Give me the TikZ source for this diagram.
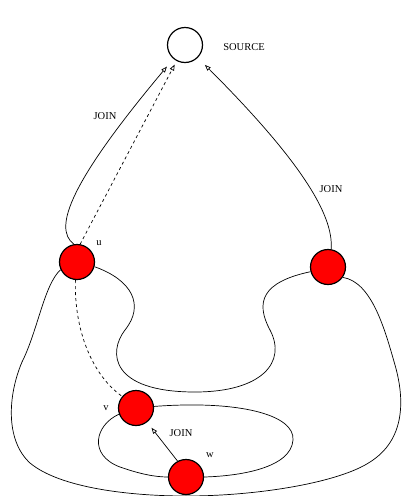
\documentclass[tikz,border=0pt]{standalone}
\usepackage{fontspec}
\setmainfont{Liberation Serif}
\usetikzlibrary{arrows.meta}
\tikzstyle{proc} = [draw=black, line width=1.2pt, fill=red, circle, minimum size=35pt, inner sep=0pt]
\tikzstyle{root} = [proc, fill=white]
\tikzstyle{tag} = [font={\fontsize{10.5}{12}\selectfont}, inner sep=0pt]
\tikzstyle{joinarrow} = [line width=0.7pt, -{Triangle[open, length=6pt, width=4.5pt]}]
\tikzstyle{trail} = [line width=0.7pt, dashed]
\tikzstyle{edge} = [line width=0.7pt]

\begin{document}
\begin{tikzpicture}[x=1pt, y=-1pt]
  \useasboundingbox (0,0) rectangle (404,496);
  \node[root](src) at (185,45){};
  \node[proc](u) at (77,262){};
  \node[proc](r) at (328,267){};
  \node[proc](v) at (136,408){};
  \node[proc](w) at (186,477){};
  \node[tag](tsrc) at (244,47){SOURCE};
  \node[tag](tu) at (99,243){u};
  \node[tag](tv) at (106,408){v};
  \node[tag](tw) at (210,455){w};
  \node[tag](j1) at (105,116){JOIN};
  \node[tag](j2) at (331,189){JOIN};
  \node[tag](j3) at (181,433){JOIN};
  \draw[joinarrow,shorten >=10pt](u.100) .. controls (52,228) and (72,180) .. (src);
  \draw[joinarrow,trail,shorten >=4pt](u.80) -- (src);
  \draw[joinarrow,shorten >=10pt](r.80) .. controls (334,215) and (300,160) .. (src);
  \draw[joinarrow,shorten >=7pt](w.118) -- (v);
  \draw[trail](u.265) .. controls (74,330) and (92,375) .. (v.140);
  \draw[edge](u.-15) .. controls (132,280) and (145,305) .. (125,330)
    .. controls (108,352) and (110,392) .. (195,392)
    .. controls (262,392) and (287,362) .. (270,330)
    .. controls (255,302) and (262,282) .. (r.195);
  \draw[edge](u.205) .. controls (44,285) and (38,330) .. (22,362)
    .. controls (8,395) and (5,440) .. (30,463)
    .. controls (60,488) and (130,496) .. (186,496)
    .. controls (260,496) and (340,482) .. (370,462)
    .. controls (405,440) and (405,400) .. (395,365)
    .. controls (385,330) and (372,282) .. (r.-35);
  \draw[edge](v.5) .. controls (240,400) and (295,415) .. (293,440)
    .. controls (291,468) and (240,476) .. (w.0);
  \draw[edge](v.200) .. controls (95,425) and (88,455) .. (120,467)
    .. controls (140,474) and (155,477) .. (w.180);
\end{tikzpicture}
\end{document}
